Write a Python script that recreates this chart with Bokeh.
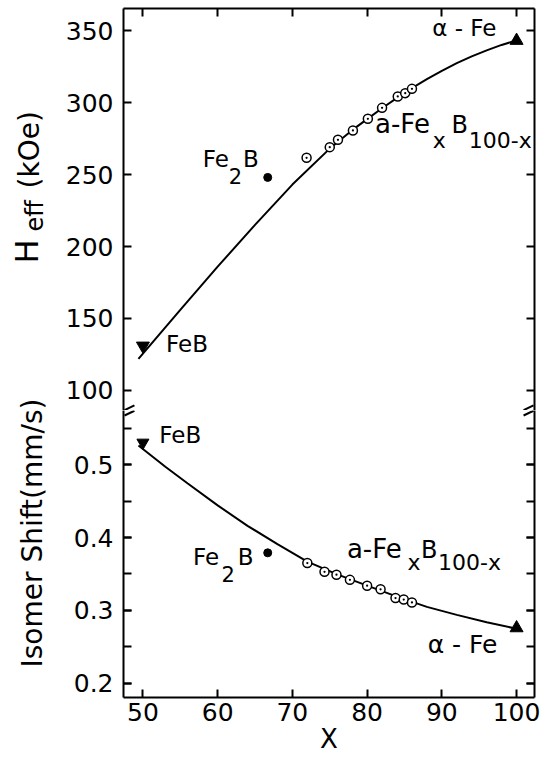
import math
from bokeh.plotting import figure
from bokeh.layouts import column, row
from bokeh.models import Range1d, FixedTicker, LinearAxis, Label, CustomJSTickFormatter
from bokeh.embed import file_html
from bokeh.resources import INLINE

# ---------------- data ----------------
# amorphous a-Fe_x B_100-x samples
x_amorph_heff = [71.9, 75.0, 76.1, 78.1, 80.1, 82.0, 84.1, 85.1, 86.0]
heff_amorph = [261.6, 269.0, 274.1, 280.6, 288.7, 296.3, 304.2, 306.5, 309.5]
x_amorph_is = [72.0, 74.3, 75.9, 77.7, 80.0, 81.8, 83.8, 84.9, 86.0]
is_amorph = [0.365, 0.353, 0.349, 0.342, 0.334, 0.329, 0.317, 0.315, 0.311]

# crystalline references
x_feb = [50.0]
heff_feb = [131.0]
is_feb = [0.530]
x_fe2b = [66.7]
heff_fe2b = [248.0]
is_fe2b = [0.379]
x_fe = [100.0]
heff_fe = [343.0]
is_fe = [0.276]

# smooth guide curves
fit_x_heff = [49.4, 55, 60, 65, 70, 75, 78, 80, 82, 84, 86, 88, 90, 92, 94, 96, 98, 100]
fit_heff = [122, 156, 186, 215, 243, 268, 280.8, 288.5, 296, 303.2, 310, 316.2, 322,
            327.3, 332, 336.2, 340, 343.2]
fit_x_is = [49.4, 53, 56, 60, 64, 68, 72, 76, 80, 84, 88, 92, 96, 100]
fit_is = [0.526, 0.497, 0.474, 0.444, 0.416, 0.391, 0.367, 0.3495, 0.334, 0.319,
          0.305, 0.294, 0.284, 0.275]

# ticks
x_ticks = [50, 60, 70, 80, 90, 100]
heff_ticks = [100, 150, 200, 250, 300, 350]
is_ticks = [0.2, 0.3, 0.4, 0.5]
is_minor_ticks = [0.2, 0.25, 0.3, 0.35, 0.4, 0.45, 0.5, 0.55]

FONT = "DejaVu Sans"
X0, X1 = 47.4, 102.4
xr = Range1d(X0, X1)
H0, H1 = 86.1, 365.3
I0, I1 = 0.1808, 0.574
STRIP_W = 62
MAIN_W = 544 - STRIP_W

# axis-break marks: one slanted stroke on each side of the break, per axis
break_x = [X0 + 0.8, X1 - 0.8]
break_top_y = [H0 + 1.9, H0 + 1.9]
break_bot_y = [I1 - 0.0036, I1 - 0.0036]


def style_axis(ax, labels=True, standoff=10):
    ax.axis_line_width = 2
    ax.axis_line_color = "black"
    ax.major_tick_in = 8
    ax.major_tick_out = 0
    ax.minor_tick_in = 8
    ax.minor_tick_out = 0
    ax.major_tick_line_width = 2
    ax.minor_tick_line_width = 2
    ax.major_tick_line_color = "black"
    ax.minor_tick_line_color = "black"
    ax.major_label_text_font = FONT
    ax.major_label_text_font_size = "25px"
    ax.major_label_text_color = "black"
    ax.major_label_standoff = standoff
    if not labels:
        ax.formatter = CustomJSTickFormatter(code="return ''")
        ax.major_label_standoff = 0
    return ax


def lab(fig, x, y, text, size, **kw):
    fig.add_layout(Label(x=x, y=y, text=text, text_font=FONT,
                         text_font_size=f"{size}px", text_color="black", **kw))


def base_fig(width, height, xrng, yrng, left, right, top, bottom):
    p = figure(width=width, height=height, x_range=xrng, y_range=yrng,
               output_backend="svg", toolbar_location=None,
               x_axis_location=None, y_axis_location=None,
               min_border_left=left, min_border_right=right,
               min_border_top=top, min_border_bottom=bottom)
    p.outline_line_color = None
    p.grid.visible = False
    p.background_fill_color = "white"
    p.border_fill_color = "white"
    return p


# ---------------- top panel: H_eff ----------------
top = base_fig(MAIN_W, 410, xr, Range1d(H0, H1), 58, 10, 8, 0)
top.add_layout(style_axis(LinearAxis(ticker=FixedTicker(ticks=heff_ticks))), "left")
top.add_layout(style_axis(LinearAxis(ticker=FixedTicker(ticks=heff_ticks)), labels=False), "right")
top.add_layout(style_axis(LinearAxis(ticker=FixedTicker(ticks=x_ticks)), labels=False), "above")

top.line(fit_x_heff, fit_heff, line_color="black", line_width=2)
top.scatter(x_amorph_heff, heff_amorph, marker="circle_dot", size=9,
            fill_color="white", line_color="black", line_width=1.5)
top.scatter(x_fe2b, heff_fe2b, marker="circle", size=8, fill_color="black", line_color="black")
top.scatter(x_feb, heff_feb, marker="inverted_triangle", size=13, fill_color="black", line_color="black")
top.scatter(x_fe, heff_fe, marker="triangle", size=13, fill_color="black", line_color="black")
top.scatter(break_x, break_top_y, marker="dash", size=11, angle=0.45,
            line_color="black", line_width=2)

lab(top, 97.3, 343, "α - Fe", 23, text_align="right")
lab(top, 81.06, 274.8, "a-Fe", 26)
lab(top, 88.8, 264.6, "x", 22)
lab(top, 91.3, 274.8, "B", 24)
lab(top, 93.6, 264.6, "100-x", 22)
lab(top, 58.0, 251.6, "Fe", 23)
lab(top, 61.5, 243.5, "2", 21)
lab(top, 63.4, 251.6, "B", 23)
lab(top, 53.1, 123.1, "FeB", 23)

# ---------------- bottom panel: isomer shift ----------------
bot = base_fig(MAIN_W, 351, xr, Range1d(I0, I1), 58, 10, 0, 64)
bot.add_layout(style_axis(LinearAxis(ticker=FixedTicker(ticks=is_ticks, minor_ticks=is_minor_ticks))), "left")
bot.add_layout(style_axis(LinearAxis(ticker=FixedTicker(ticks=is_ticks, minor_ticks=is_minor_ticks)), labels=False), "right")
xax = style_axis(LinearAxis(ticker=FixedTicker(ticks=x_ticks)), standoff=5)
xax.axis_label = "X"
xax.axis_label_text_font = FONT
xax.axis_label_text_font_size = "26px"
xax.axis_label_text_font_style = "normal"
xax.axis_label_text_color = "black"
xax.axis_label_standoff = 0
bot.add_layout(xax, "below")

bot.line(fit_x_is, fit_is, line_color="black", line_width=2)
bot.scatter(x_amorph_is, is_amorph, marker="circle_dot", size=9,
            fill_color="white", line_color="black", line_width=1.5)
bot.scatter(x_fe2b, is_fe2b, marker="circle", size=8, fill_color="black", line_color="black")
bot.scatter(x_feb, is_feb, marker="inverted_triangle", size=12, fill_color="black", line_color="black")
bot.scatter(x_fe, is_fe, marker="triangle", size=13, fill_color="black", line_color="black")
bot.scatter(break_x, break_bot_y, marker="dash", size=11, angle=0.45,
            line_color="black", line_width=2)

lab(bot, 52.2, 0.5229, "FeB", 23)
lab(bot, 56.7, 0.3548, "Fe", 23)
lab(bot, 60.5, 0.3388, "2", 21)
lab(bot, 62.7, 0.3548, "B", 23)
lab(bot, 77.3, 0.364, "a-Fe", 26)
lab(bot, 85.4, 0.348, "x", 22)
lab(bot, 87.2, 0.364, "B", 24)
lab(bot, 89.5, 0.348, "100-x", 22)
lab(bot, 88.1, 0.2338, "α - Fe", 25)

# ---------------- left strip with the rotated axis titles ----------------
# coordinates here are page pixels (y downward)
strip = base_fig(STRIP_W, 761, Range1d(0, STRIP_W), Range1d(761, 0), 0, 0, 0, 0)
lab(strip, 45, 263, "H", 32, angle=math.pi / 2)
lab(strip, 48, 231, "eff", 24, angle=math.pi / 2)
lab(strip, 45, 188, "(kOe)", 28, angle=math.pi / 2)
lab(strip, 48, 667, "Isomer Shift(mm/s)", 28, angle=math.pi / 2)

layout = row(strip, column(top, bot, spacing=0), spacing=0)
open("out.html", "w").write(file_html(layout, INLINE))
